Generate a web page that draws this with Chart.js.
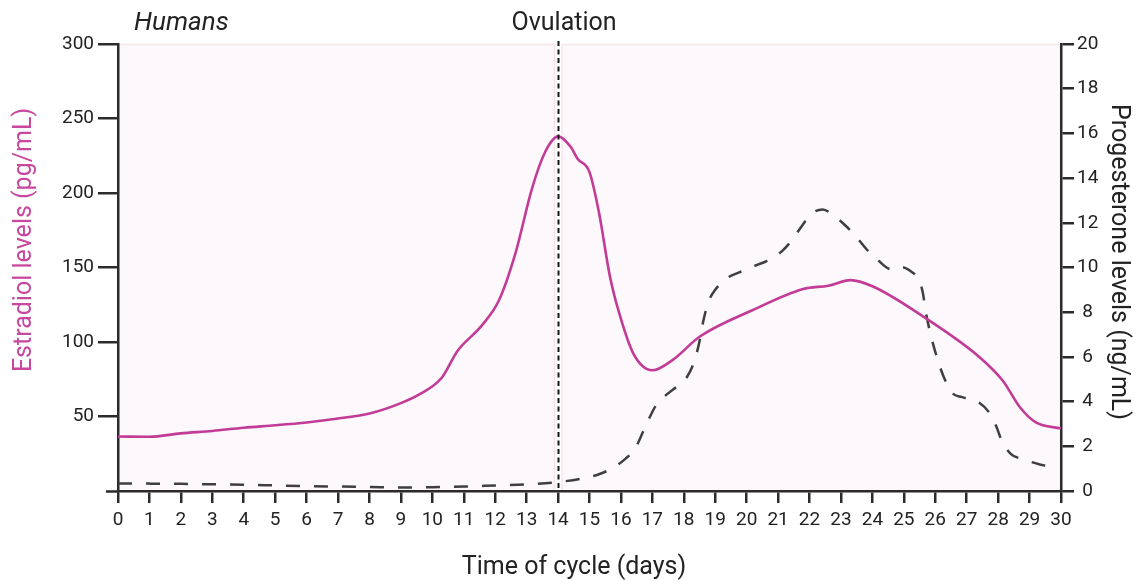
<!DOCTYPE html>
<html>
<head>
<meta charset="utf-8">
<script src="https://cdn.jsdelivr.net/npm/chart.js@4.4.1/dist/chart.umd.min.js"></script>
<style>
  html, body { margin: 0; padding: 0; background: #ffffff; }
  #wrap { width: 1142px; height: 580px; position: relative; }
</style>
</head>
<body>
<div id="wrap"><canvas id="c" width="1142" height="580"></canvas></div>
<script>
// ---- Data ----
const dayTicks = [0,1,2,3,4,5,6,7,8,9,10,11,12,13,14,15,16,17,18,19,20,21,22,23,24,25,26,27,28,29,30];
const estradiolTicks = [0,50,100,150,200,250,300];
const progesteroneTicks = [0,2,4,6,8,10,12,14,16,18,20];

const estradiolDays = [0,1,2,3,4,5,6,7,8,9,9.6,10.3,10.8,11.57,12.12,12.65,13.17,13.6,14.0,14.4,14.62,15.0,15.3,15.65,15.95,16.4,17.0,17.65,18.5,20.2,21.8,22.6,23.3,24.0,25.55,27.4,28.15,28.7,29.2,30];
const estradiolValues = [36.6,36.4,38.7,40.3,42.5,44.1,46,48.6,52,59,65,76,94,111,128,160,203,228,238,231,223,214,187,144,119,92,81,88,103.5,121.5,135.6,137.8,141.5,137.4,118,90,74,56,46,42];

const progesteroneDays = [0,1,2,3,4,5,6,7,8,9,10,11,12,13,14,14.8,15.3,15.7,16.15,16.45,16.7,16.85,17.1,17.4,17.8,18.1,18.35,18.5,18.62,18.78,19.0,19.35,19.8,20.3,20.65,21.1,21.4,21.8,22.05,22.42,22.75,23.2,23.5,23.85,24.2,24.55,24.8,24.98,25.2,25.45,25.6,25.7,25.88,26.13,26.3,26.55,26.85,27.4,27.72,27.95,28.1,28.4,28.8,29.3,29.8];
const progesteroneValues = [0.33,0.33,0.32,0.3,0.28,0.25,0.22,0.2,0.18,0.16,0.17,0.2,0.25,0.3,0.4,0.57,0.75,1.0,1.45,1.9,2.64,3.1,3.8,4.25,4.7,5.1,5.87,6.7,7.6,8.45,9.0,9.5,9.8,10.1,10.3,10.7,11.15,11.95,12.4,12.6,12.35,11.8,11.35,10.76,10.3,9.93,9.9,10.0,9.85,9.5,8.9,8.0,6.85,5.64,5.0,4.37,4.2,3.95,3.5,2.86,2.3,1.66,1.42,1.2,1.05];

const ovulationDay = 14;

// ---- Styling ----
const MAGENTA = '#c23b97';
const MAGENTA_TEXT = '#c8479f';
const AXIS = '#2b2b2b';
const TEXT = '#222222';
const FONT = 'Roboto, "Noto Sans", sans-serif';

const backgroundPlugin = {
  id: 'bgPanels',
  beforeDraw(chart) {
    const {ctx, chartArea: a, scales} = chart;
    const ox = scales.x.getPixelForValue(ovulationDay);
    ctx.save();
    ctx.fillStyle = '#fdf8fb';
    ctx.strokeStyle = '#f6e6e7';
    ctx.lineWidth = 1.5;
    const gap = 4;
    ctx.fillRect(a.left, a.top, ox - gap - a.left, a.bottom - a.top);
    ctx.fillRect(ox + gap, a.top, a.right - ox - gap, a.bottom - a.top);
    ctx.strokeRect(a.left + 0.5, a.top + 0.5, ox - gap - a.left, a.bottom - a.top);
    ctx.strokeRect(ox + gap, a.top + 0.5, a.right - ox - gap - 0.5, a.bottom - a.top);
    ctx.restore();
  }
};

const overlayPlugin = {
  id: 'overlay',
  afterDatasetsDraw(chart) {
    const {ctx, chartArea: a, scales} = chart;
    const ox = Math.round(scales.x.getPixelForValue(ovulationDay)) + 0.5;
    ctx.save();
    ctx.strokeStyle = '#151515';
    ctx.lineWidth = 2;
    ctx.setLineDash([5, 3.5]);
    ctx.beginPath();
    ctx.moveTo(ox, a.top - 3);
    ctx.lineTo(ox, a.bottom);
    ctx.stroke();
    ctx.restore();
  },
  afterDraw(chart) {
    const {ctx, chartArea: a, scales} = chart;
    const ox = scales.x.getPixelForValue(ovulationDay);
    ctx.save();
    // x-axis line extension to the left of the y axis
    ctx.strokeStyle = AXIS;
    ctx.lineWidth = 2.5;
    ctx.beginPath();
    ctx.moveTo(a.left - 12, a.bottom + 0.5);
    ctx.lineTo(a.left, a.bottom + 0.5);
    ctx.stroke();

    ctx.fillStyle = TEXT;
    ctx.textBaseline = 'alphabetic';
    // Humans
    ctx.font = 'italic 26px ' + FONT;
    ctx.textAlign = 'left';
    ctx.fillText('Humans', a.left + 16, 30);
    // Ovulation
    ctx.font = '25px ' + FONT;
    ctx.textAlign = 'center';
    ctx.fillText('Ovulation', ox + 6, 30);
    // X title
    ctx.fillText('Time of cycle (days)', 574, 574);
    // Left title
    ctx.save();
    ctx.translate(31, 240);
    ctx.rotate(-Math.PI / 2);
    ctx.fillStyle = MAGENTA_TEXT;
    ctx.fillText('Estradiol levels (pg/mL)', 0, 0);
    ctx.restore();
    // Right title
    ctx.save();
    ctx.translate(1112, 262);
    ctx.rotate(Math.PI / 2);
    ctx.fillStyle = TEXT;
    ctx.fillText('Progesterone levels (ng/mL)', 0, 0);
    ctx.restore();
    ctx.restore();
  }
};

function build() {
  const ctx = document.getElementById('c').getContext('2d');
  new Chart(ctx, {
    type: 'line',
    data: {
      datasets: [
        {
          label: 'Estradiol',
          data: estradiolDays.map((d, i) => ({x: d, y: estradiolValues[i]})),
          yAxisID: 'yE',
          borderColor: MAGENTA,
          borderWidth: 2.6,
          pointRadius: 0,
          fill: false,
          cubicInterpolationMode: 'monotone'
        },
        {
          label: 'Progesterone',
          data: progesteroneDays.map((d, i) => ({x: d, y: progesteroneValues[i]})),
          yAxisID: 'yP',
          borderColor: '#3f3f3f',
          borderWidth: 2.5,
          borderDash: [14, 14],
          pointRadius: 0,
          fill: false,
          cubicInterpolationMode: 'monotone'
        }
      ]
    },
    options: {
      responsive: false,
      animation: false,
      events: [],
      layout: { padding: { top: 44, left: 0, right: 0, bottom: 0 } },
      plugins: { legend: { display: false }, tooltip: { enabled: false }, title: { display: false } },
      scales: {
        x: {
          type: 'linear',
          min: dayTicks[0],
          max: dayTicks[dayTicks.length - 1],
          afterBuildTicks: (s) => { s.ticks = dayTicks.map(v => ({value: v})); },
          afterFit: (s) => { s.height = 89; },
          grid: { drawOnChartArea: false, drawTicks: true, tickLength: 12, color: AXIS, lineWidth: 2.5 },
          border: { display: true, color: AXIS, width: 2.5 },
          ticks: { autoSkip: false, maxRotation: 0, minRotation: 0, padding: 6, color: TEXT, font: { family: FONT, size: 19 } }
        },
        yE: {
          type: 'linear',
          position: 'left',
          min: estradiolTicks[0],
          max: estradiolTicks[estradiolTicks.length - 1],
          afterBuildTicks: (s) => { s.ticks = estradiolTicks.map(v => ({value: v})); },
          afterFit: (s) => { s.width = 118; },
          grid: {
            drawOnChartArea: false, drawTicks: true, tickLength: 20, lineWidth: 2.5,
            color: (c) => (c.tick && c.tick.value === 0) ? 'rgba(0,0,0,0)' : AXIS
          },
          border: { display: true, color: AXIS, width: 2.5 },
          ticks: {
            padding: 4, color: TEXT, font: { family: FONT, size: 19 },
            callback: (v) => v === 0 ? '' : String(v)
          }
        },
        yP: {
          type: 'linear',
          position: 'right',
          min: progesteroneTicks[0],
          max: progesteroneTicks[progesteroneTicks.length - 1],
          afterBuildTicks: (s) => { s.ticks = progesteroneTicks.map(v => ({value: v})); },
          afterFit: (s) => { s.width = 81; },
          grid: { drawOnChartArea: false, drawTicks: true, tickLength: 13, color: AXIS, lineWidth: 2.5 },
          border: { display: true, color: AXIS, width: 2.5 },
          ticks: { padding: 3, crossAlign: 'center', color: TEXT, font: { family: FONT, size: 19 } }
        }
      }
    },
    plugins: [backgroundPlugin, overlayPlugin]
  });
}

if (document.fonts && document.fonts.load) {
  Promise.all([
    document.fonts.load('19px Roboto'),
    document.fonts.load('25px Roboto'),
    document.fonts.load('italic 26px Roboto')
  ]).then(build, build);
} else {
  build();
}
</script>
</body>
</html>
